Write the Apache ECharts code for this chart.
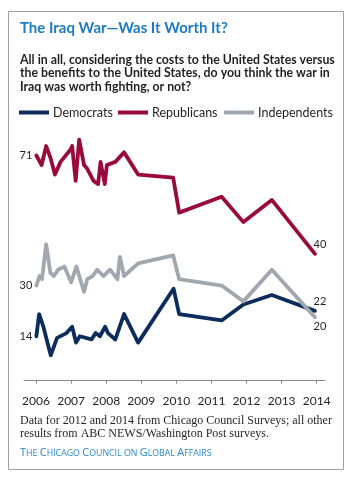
<!DOCTYPE html>
<html>
<head>
<meta charset="utf-8">
<script src="https://cdn.jsdelivr.net/npm/echarts@6/dist/echarts.min.js"></script>
<style>
  html, body { margin: 0; padding: 0; background: #fff; }
  #chart { width: 348px; height: 480px; }
</style>
</head>
<body>
<div id="chart"></div>
<script>
// Survey dates as decimal years, with the share answering "worth fighting" (%)
const demYears = [2006.01, 2006.09, 2006.21, 2006.42, 2006.60, 2006.87, 2007.03, 2007.14, 2007.25, 2007.58, 2007.70, 2007.82, 2007.97, 2008.05, 2008.26, 2008.51, 2008.91, 2009.92, 2010.08, 2011.29, 2011.91, 2012.72, 2013.95];
const demValues = [14, 21, 17, 8, 13.5, 15, 17, 12, 14, 13, 15, 14, 17, 15, 13, 21, 12, 29, 21, 19, 24, 27, 22];

const repYears = [2006.01, 2006.16, 2006.29, 2006.42, 2006.54, 2006.70, 2006.99, 2007.03, 2007.13, 2007.23, 2007.37, 2007.45, 2007.64, 2007.77, 2007.84, 2007.96, 2008.02, 2008.26, 2008.51, 2008.91, 2009.91, 2010.08, 2011.29, 2011.91, 2012.72, 2013.95];
const repValues = [71, 68, 74, 70, 65, 69, 73, 74, 63, 76, 68, 67, 63, 62, 69, 62, 68, 69, 72, 65, 64, 53, 58, 50, 57, 40];

const indYears = [2006.01, 2006.10, 2006.17, 2006.29, 2006.41, 2006.51, 2006.63, 2006.81, 2007.00, 2007.15, 2007.37, 2007.46, 2007.62, 2007.74, 2007.92, 2008.11, 2008.32, 2008.39, 2008.51, 2008.91, 2009.91, 2010.08, 2011.29, 2011.91, 2012.72, 2013.95];
const indValues = [30, 33, 32, 43, 34, 33, 35, 36, 31, 36, 28, 32, 33, 35, 33, 35, 32, 39, 33, 37, 39.5, 32, 30, 25, 35, 20];

const yearTicks = [2006, 2007, 2008, 2009, 2010, 2011, 2012, 2013, 2014];

const seriesNames = ['Democrats', 'Republicans', 'Independents'];
const seriesColors = ['#0c2d5c', '#9a0b3d', '#a1a7ae'];
const legendLefts = [19, 118, 224];

const INK = '#231f20';
const SANS = 'Lato';

// pair dates with values; first point labelled on the left, last one at the end
function buildData(years, values, endPos) {
  return years.map((x, i) => {
    const item = { value: [x, values[i]] };
    if (i === 0) {
      item.label = { show: true, position: 'left', distance: 4 };
    } else if (i === years.length - 1) {
      item.label = { show: true, position: endPos, distance: 4, offset: [5, 0] };
    }
    return item;
  });
}

function lineSeries(idx, years, values, endPos) {
  return {
    name: seriesNames[idx],
    type: 'line',
    data: buildData(years, values, endPos),
    symbol: 'circle',
    symbolSize: 0,
    showSymbol: true,
    color: seriesColors[idx],
    lineStyle: { width: 3.8, color: seriesColors[idx], cap: 'round', join: 'round' },
    label: {
      show: false,
      formatter: p => String(p.value[1]),
      color: INK,
      fontFamily: SANS,
      fontSize: 11
    },
    emphasis: { disabled: true },
    z: idx === 1 ? 3 : 2
  };
}

// footer set in small capitals via rich text
const footerWords = ['The', 'Chicago', 'Council', 'on', 'Global', 'Affairs'];
function smallCaps(words) {
  return words.map(w => {
    const lead = w[0];
    const rest = w.slice(1).toUpperCase();
    const leadPart = lead === lead.toUpperCase() ? '{big|' + lead + '}' : '{sm|' + lead.toUpperCase() + '}';
    return leadPart + (rest ? '{sm|' + rest + '}' : '');
  }).join('{sm| }');
}

// one legend block per party so each key sits at its own spot
const legends = seriesNames.map((name, i) => ({
  left: legendLefts[i], top: 106,
  padding: 0,
  icon: 'rect',
  itemWidth: 30, itemHeight: 4,
  selectedMode: false,
  data: [name],
  textStyle: { color: INK, fontFamily: SANS, fontSize: 12.5, padding: [0, 0, 0, -1] }
}));

const chart = echarts.init(document.getElementById('chart'), null, { renderer: 'canvas' });

chart.setOption({
  animation: false,
  backgroundColor: '#ffffff',
  title: [
    {
      text: 'The Iraq War\u2014Was It Worth It?',
      left: 20, top: 21, padding: 0,
      textStyle: { color: '#1d7bc1', fontFamily: SANS, fontWeight: 700, fontSize: 15 }
    },
    {
      text: 'All in all, considering the costs to the United States versus\nthe benefits to the United States, do you think the war in\nIraq was worth fighting, or not?',
      left: 20, top: 53, padding: 0,
      textStyle: { color: INK, fontFamily: SANS, fontWeight: 700, fontSize: 12.3, lineHeight: 13.5 }
    },
    {
      text: 'Data for 2012 and 2014 from Chicago Council Surveys; all other\nresults from ABC NEWS/Washington Post surveys.',
      left: 20, top: 415, padding: 0,
      textStyle: { color: INK, fontFamily: 'Liberation Serif', fontWeight: 400, fontSize: 12, lineHeight: 12.5 }
    },
    {
      text: smallCaps(footerWords),
      left: 20, top: 447.5, padding: 0,
      textStyle: {
        rich: {
          big: { color: '#2889cf', fontFamily: 'Open Sans', fontWeight: 500, fontSize: 11 },
          sm: { color: '#2889cf', fontFamily: 'Open Sans', fontWeight: 500, fontSize: 8.8 }
        }
      }
    }
  ],
  legend: legends,
  grid: { left: 24, right: 23, top: 127, bottom: 93, containLabel: false },
  xAxis: {
    type: 'value',
    min: 2005.658,
    max: 2014.236,
    splitLine: { show: false },
    axisLine: { show: true, lineStyle: { color: '#8a8a8a', width: 1 } },
    axisTick: { show: true, customValues: yearTicks, length: 3, lineStyle: { color: '#8a8a8a' } },
    axisLabel: {
      show: true,
      customValues: yearTicks,
      formatter: v => String(Math.round(v)),
      color: INK, fontFamily: SANS, fontSize: 12, margin: 8
    }
  },
  yAxis: {
    type: 'value',
    min: -2,
    max: 80,
    show: false,
    splitLine: { show: false }
  },
  series: [
    lineSeries(0, demYears, demValues, 'top'),
    lineSeries(1, repYears, repValues, 'top'),
    lineSeries(2, indYears, indValues, 'bottom')
  ],
  graphic: [
    {
      type: 'rect',
      shape: { x: 8.5, y: 11.5, width: 335, height: 458 },
      style: { fill: 'none', stroke: '#a0a0a0', lineWidth: 1 },
      silent: true
    }
  ]
});
</script>
</body>
</html>
